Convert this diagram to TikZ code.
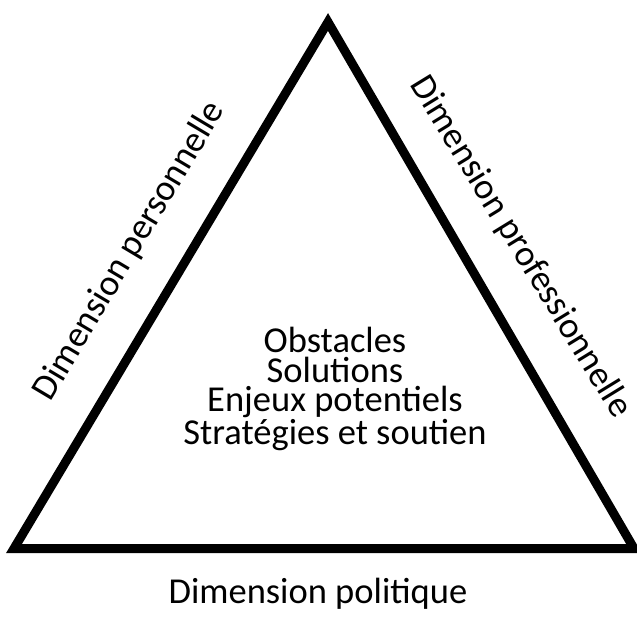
\documentclass[tikz,border=0pt]{standalone}
\usepackage{fontspec}
\setmainfont{Carlito}
\begin{document}
\begin{tikzpicture}[x=1pt,y=-1pt,
  edge/.style={line width=9pt, line join=miter, draw=black},
  lbl/.style={font=\fontsize{36.5}{29.3}\selectfont, inner sep=0pt}]
\useasboundingbox (0,0) rectangle (637,616);
\coordinate (top) at (328,22);
\coordinate (bl) at (14,548.5);
\coordinate (br) at (634,548.5);
\draw[edge] (top) -- (bl) -- (br) -- cycle;
\node[lbl, anchor=base, align=center] (centre) at (335,444)
  {Obstacles\\Solutions\\Enjeux potentiels\\Stratégies et soutien};
\node[lbl, anchor=base, rotate=59.2] (perso) at (138,256) {Dimension personnelle};
\node[lbl, anchor=base, rotate=-58.5] (pro) at (512,252) {Dimension professionnelle};
\node[lbl, anchor=base] (poli) at (318,603) {Dimension politique};
\end{tikzpicture}
\end{document}
